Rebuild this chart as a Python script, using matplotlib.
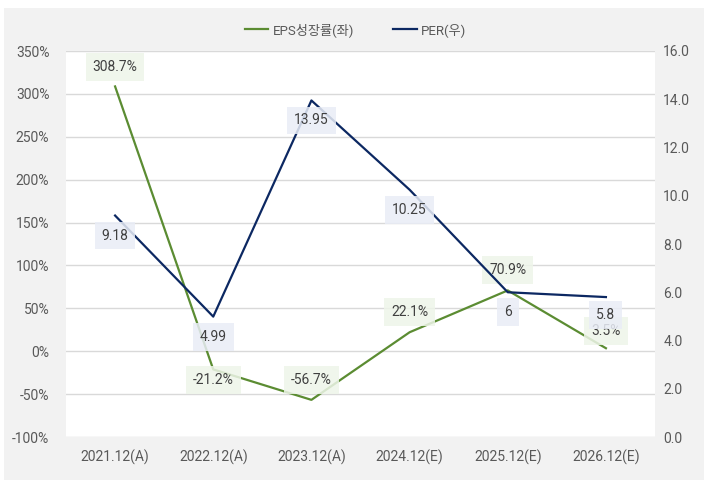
import matplotlib.pyplot as plt
from matplotlib.patches import Rectangle
from matplotlib.ticker import FuncFormatter

plt.rcParams['font.family'] = ['Roboto', 'Noto Sans CJK KR', 'DejaVu Sans']

periods = ['2021.12(A)', '2022.12(A)', '2023.12(A)', '2024.12(E)', '2025.12(E)', '2026.12(E)']
eps_growth = [308.7, -21.2, -56.7, 22.1, 70.9, 3.5]
per = [9.18, 4.99, 13.95, 10.25, 6, 5.8]
eps_labels = ['308.7%', '-21.2%', '-56.7%', '22.1%', '70.9%', '3.5%']
per_labels = ['9.18', '4.99', '13.95', '10.25', '6', '5.8']

green = '#5b8c32'
navy = '#0c2862'
txt = '#595959'

fig = plt.figure(figsize=(7.11, 4.90), dpi=100)
fig.patch.set_facecolor('white')
fig.patches.append(Rectangle((4 / 711, 10 / 490), 700 / 711, 472 / 490,
                             transform=fig.transFigure, facecolor='#f2f2f2',
                             edgecolor='none', zorder=-10))

ax = fig.add_axes([66 / 711, 53 / 490, 589 / 711, 386 / 490])
ax.set_facecolor('white')
ax2 = ax.twinx()

x = list(range(len(periods)))
l1, = ax.plot(x, eps_growth, color=green, lw=1.6, label='EPS성장률(좌)', zorder=3)
l2, = ax2.plot(x, per, color=navy, lw=1.6, label='PER(우)', zorder=3)

ax.set_xlim(-0.5, 5.5)
ax.set_ylim(-100, 350)
ax.set_yticks(range(-100, 351, 50))
ax.yaxis.set_major_formatter(FuncFormatter(lambda v, p: '{:.0f}%'.format(v)))
ax2.set_ylim(0, 16)
ax2.set_yticks(range(0, 17, 2))
ax2.yaxis.set_major_formatter(FuncFormatter(lambda v, p: '{:.1f}'.format(v)))

ax.grid(axis='y', color='#d9d9d9', lw=1)
ax.set_axisbelow(True)
ax.set_xticks(x)
ax.set_xticklabels(periods)
for a in (ax, ax2):
    for s in a.spines.values():
        s.set_visible(False)
    a.tick_params(length=0, colors=txt, labelsize=10)
ax.tick_params(axis='x', pad=9)
ax.tick_params(axis='y', pad=12)
ax2.tick_params(axis='y', pad=6)

# label offsets in pixels (positive = above)
eps_off = [19.5, -11, 19.5, 20, 20, 17]
per_off = [-20, -20, -20, -20, -20, -18]
for i in x:
    ax.annotate(eps_labels[i], (i, eps_growth[i]), xytext=(0, eps_off[i] * 0.72),
                textcoords='offset points', ha='center', va='center',
                fontsize=10, color='#404040', zorder=5,
                bbox=dict(boxstyle='square,pad=0.5', fc='#eef5e9', ec='none', alpha=0.85))
    ax2.annotate(per_labels[i], (i, per[i]), xytext=(0, per_off[i] * 0.72),
                 textcoords='offset points', ha='center', va='center',
                 fontsize=10, color='#404040', zorder=5,
                 bbox=dict(boxstyle='square,pad=0.5', fc='#e9edf6', ec='none', alpha=0.85))

fig.legend(handles=[l1, l2], loc='center', bbox_to_anchor=(0.5, 1 - 30 / 490),
           ncol=2, frameon=False, fontsize=9.5, labelcolor=txt,
           handlelength=1.8, columnspacing=3, handletextpad=0.3)

fig.savefig('out.png', dpi=100)
